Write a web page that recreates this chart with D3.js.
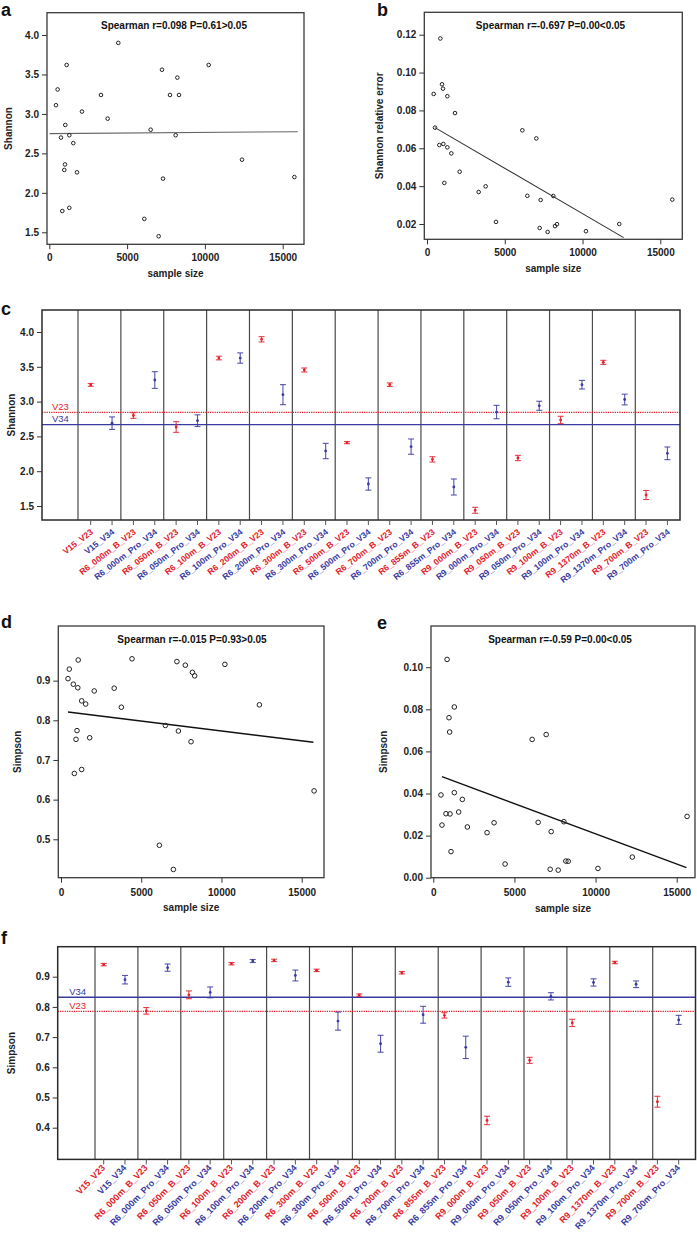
<!DOCTYPE html>
<html><head><meta charset="utf-8">
<script src="https://cdn.jsdelivr.net/npm/d3@7"></script>
<style>
body{margin:0;background:#fff}
text{font-family:"Liberation Sans",Arial,Helvetica,sans-serif}
</style>
</head><body>
<script>
// ---------------- DATA ----------------
const xTicks = [0, 5000, 10000, 15000];

// panel a : Shannon vs sample size
const aSize = [4435,1114,536,429,2100,3321,3750,1029,750,1286,1543,1007,964,1779,836,1286,6514,7243,8229,7757,8336,8121,10243,7307,6107,7028,12386,15750];
const aShannon = [3.90,3.62,3.31,3.11,3.03,3.24,2.94,2.86,2.70,2.73,2.63,2.36,2.29,2.26,1.77,1.81,2.80,3.56,3.46,3.24,3.24,2.73,3.62,2.18,1.67,1.45,2.42,2.20];
const aFitX = [21, 15964];
const aFitY = [2.750, 2.775];
const aYTicks = [1.5, 2.0, 2.5, 3.0, 3.5, 4.0];
const aTitle = "Spearman r=0.098 P=0.61>0.05";

// panel b : Shannon relative error vs sample size
const bSize = [857,429,964,1029,1307,1800,514,793,1050,1307,1564,2100,1114,3321,3771,4436,6129,7029,6450,7307,8121,7243,7757,8229,8357,10221,12364,15771];
const bErr = [0.118,0.0887,0.0938,0.0915,0.0875,0.0786,0.0709,0.0617,0.0623,0.0605,0.0573,0.0476,0.0417,0.0369,0.0399,0.0211,0.0695,0.0652,0.0349,0.0327,0.0348,0.0179,0.0158,0.0189,0.0199,0.0162,0.0200,0.0329];
const bFitX = [514, 12643];
const bFitY = [0.0709, 0.0128];
const bYTicks = [0.02, 0.04, 0.06, 0.08, 0.10, 0.12];
const bTitle = "Spearman r=-0.697 P=0.00<0.05";

// panel d : Simpson vs sample size
const dSize = [1072,517,436,767,1047,2069,3315,4425,7223,7747,8189,8332,10214,1288,1538,3761,12364,997,935,1787,6504,7315,8104,831,1288,15772,6130,7003];
const dSimpson = [0.952,0.929,0.905,0.891,0.882,0.874,0.881,0.955,0.948,0.939,0.921,0.912,0.941,0.849,0.841,0.833,0.839,0.774,0.752,0.756,0.787,0.773,0.746,0.666,0.676,0.622,0.485,0.424];
const dFitX = [436, 15730];
const dFitY = [0.821, 0.7445];
const dYTicks = [0.5, 0.6, 0.7, 0.8, 0.9];
const dTitle = "Spearman r=-0.015 P=0.93>0.05";

// panel e : Simpson (error) vs sample size
const eSize = [850,1296,967,1008,6091,6956,473,1296,1790,535,782,1029,1564,2099,3313,3745,1091,4424,6462,7265,8047,7203,7697,8170,8314,10146,12265,15640];
const eSimpson = [0.1037,0.0811,0.076,0.0692,0.0657,0.068,0.0393,0.0404,0.0372,0.025,0.0304,0.0303,0.0312,0.0241,0.0214,0.0261,0.0124,0.0065,0.0263,0.0219,0.0266,0.004,0.0036,0.0079,0.0078,0.0044,0.0098,0.0291];
const eFitX = [535, 15600];
const eFitY = [0.048, 0.00475];
const eYTicks = [0.00, 0.02, 0.04, 0.06, 0.08, 0.10];
const eTitle = "Spearman r=-0.59 P=0.00<0.05";

// panels c and f : per-sample estimates
const samples = ["V15_V23","V15_V34","R6_000m_B_V23","R6_000m_Pro_V34","R6_050m_B_V23","R6_050m_Pro_V34","R6_100m_B_V23","R6_100m_Pro_V34","R6_200m_B_V23","R6_200m_Pro_V34","R6_300m_B_V23","R6_300m_Pro_V34","R6_500m_B_V23","R6_500m_Pro_V34","R6_700m_B_V23","R6_700m_Pro_V34","R6_855m_B_V23","R6_855m_Pro_V34","R9_000m_B_V23","R9_000m_Pro_V34","R9_050m_B_V23","R9_050m_Pro_V34","R9_100m_B_V23","R9_100m_Pro_V34","R9_1370m_B_V23","R9_1370m_Pro_V34","R9_700m_B_V23","R9_700m_Pro_V34"];
const cShannon = [3.24,2.69,2.80,3.31,2.635,2.726,3.626,3.626,3.895,3.10,3.454,2.29,2.41,1.816,3.243,2.353,2.17,1.773,1.438,2.85,2.19,2.94,2.736,3.243,3.564,3.03,1.658,2.257];
const cShannonErr = [0.02,0.09,0.04,0.12,0.077,0.084,0.026,0.074,0.038,0.144,0.029,0.11,0.015,0.088,0.025,0.11,0.038,0.115,0.043,0.096,0.038,0.065,0.053,0.062,0.029,0.077,0.065,0.091];
const cRefNames = ["V23", "V34"];
const cRefValues = [2.846, 2.669];
const cYTicks = [1.5, 2.0, 2.5, 3.0, 3.5, 4.0];

const fSimpson = [0.940,0.890,0.787,0.930,0.840,0.848,0.943,0.952,0.954,0.904,0.921,0.753,0.839,0.678,0.913,0.774,0.772,0.666,0.424,0.882,0.623,0.835,0.747,0.881,0.947,0.875,0.486,0.757];
const fSimpsonErr = [0.004,0.014,0.011,0.012,0.013,0.018,0.004,0.005,0.004,0.018,0.004,0.03,0.004,0.028,0.004,0.028,0.009,0.037,0.014,0.014,0.01,0.012,0.012,0.012,0.004,0.011,0.018,0.015];
const fRefNames = ["V23", "V34"];
const fRefValues = [0.785, 0.832];
const fYTicks = [0.4, 0.5, 0.6, 0.7, 0.8, 0.9];

// ---------------- DRAWING ----------------
const RED = "#e3212b", BLUE = "#3a3aa2";
const colorOf = s => s.endsWith("V23") ? RED : BLUE;

const svg = d3.select("body").append("svg").attr("width", 697).attr("height", 1233);

function panelLetter(t, x, y) {
  svg.append("text").attr("x", x).attr("y", y).text(t)
    .attr("font-size", 18).attr("font-weight", "bold").attr("fill", "#111");
}

function styleAxis(g) {
  g.select(".domain").remove();
  g.selectAll(".tick line").attr("stroke", "#333").attr("stroke-width", 1);
  g.selectAll(".tick text").attr("font-size", 10).attr("font-weight", "bold")
    .attr("fill", "#222").style("font-family", '"Liberation Sans",Arial,sans-serif');
}

function scatter(c) {
  const g = svg.append("g");
  const x = d3.scaleLinear().domain([0, 15000]).range(c.xr);
  const y = d3.scaleLinear().domain(c.yd).range(c.yr);
  const [L, T, R, B] = c.box;
  g.append("rect").attr("x", L).attr("y", T).attr("width", R - L).attr("height", B - T)
    .attr("fill", "none").attr("stroke", "#3a3a3a").attr("stroke-width", 1.3);
  const xa = g.append("g").attr("transform", `translate(0,${B})`)
    .call(d3.axisBottom(x).tickValues(xTicks).tickFormat(d3.format("d")).tickSize(5).tickPadding(c.xpad));
  styleAxis(xa);
  const ya = g.append("g").attr("transform", `translate(${L},0)`)
    .call(d3.axisLeft(y).tickValues(c.yTicks).tickFormat(d3.format(c.fmt)).tickSize(5).tickPadding(3));
  styleAxis(ya);
  g.append("text").attr("x", (L + R) / 2).attr("y", c.xlabY).attr("text-anchor", "middle")
    .attr("font-size", 10).attr("font-weight", "bold").attr("fill", "#222").text("sample size");
  g.append("text").attr("transform", `translate(${c.ylabX},${(T + B) / 2}) rotate(-90)`)
    .attr("text-anchor", "middle").attr("font-size", 10).attr("font-weight", "bold").attr("fill", "#222").text(c.ylab);
  g.append("text").attr("x", c.titleX).attr("y", c.titleY).attr("text-anchor", "middle")
    .attr("font-size", 10).attr("font-weight", "bold").attr("fill", "#111").text(c.title);
  g.append("line").attr("x1", x(c.fitX[0])).attr("y1", y(c.fitY[0]))
    .attr("x2", x(c.fitX[1])).attr("y2", y(c.fitY[1]))
    .attr("stroke", c.fitColor).attr("stroke-width", c.fitW);
  g.selectAll("circle.pt").data(c.xs).join("circle").attr("class", "pt")
    .attr("cx", d => x(d)).attr("cy", (d, i) => y(c.ys[i])).attr("r", c.r)
    .attr("fill", "none").attr("stroke", "#222").attr("stroke-width", 1);
}

scatter({xs: aSize, ys: aShannon, fitX: aFitX, fitY: aFitY, yTicks: aYTicks, fmt: ".1f",
  xr: [49.3, 282.7], yd: [1.5, 4.0], yr: [232.3, 35], box: [47, 12.7, 304, 244.3],
  xlabY: 277, ylabX: 12, ylab: "Shannon", title: aTitle, titleX: 174, titleY: 29,
  fitColor: "#666", fitW: 1.1, r: 1.8, xpad: 5});
scatter({xs: bSize, ys: bErr, fitX: bFitX, fitY: bFitY, yTicks: bYTicks, fmt: ".2f",
  xr: [427, 660.3], yd: [0.02, 0.12], yr: [224, 34.7], box: [424.3, 12.3, 682.3, 239.3],
  xlabY: 272, ylabX: 383, ylab: "Shannon relative error", title: bTitle, titleX: 550.5, titleY: 28.5,
  fitColor: "#333", fitW: 1.1, r: 1.8, xpad: 5});
scatter({xs: dSize, ys: dSimpson, fitX: dFitX, fitY: dFitY, yTicks: dYTicks, fmt: ".1f",
  xr: [61, 301.7], yd: [0.5, 0.8], yr: [839.3, 720.3], box: [58.3, 626, 324, 877.7],
  xlabY: 911, ylabX: 21, ylab: "Simpson", title: dTitle, titleX: 192, titleY: 643,
  fitColor: "#111", fitW: 1.4, r: 2.3, xpad: 6});
scatter({xs: eSize, ys: eSimpson, fitX: eFitX, fitY: eFitY, yTicks: eYTicks, fmt: ".2f",
  xr: [433.3, 676.7], yd: [0, 0.08], yr: [877.7, 709.3], box: [431, 626, 695, 877.7],
  xlabY: 912, ylabX: 387, ylab: "Simpson", title: eTitle, titleX: 560, titleY: 643,
  fitColor: "#111", fitW: 1.4, r: 2.3, xpad: 6});

function catPanel(c) {
  const g = svg.append("g");
  const x = d3.scaleLinear().domain([0, samples.length - 1]).range(c.xr);
  const sep = d3.scaleLinear().domain([-0.5, 25.5]).range(c.sepR);
  const y = d3.scaleLinear().domain(c.yd).range(c.yr);
  const [L, T, R, B] = c.box;
  const seps = d3.range(0, samples.length, 2).map(i => i - 0.5);
  g.selectAll("line.sep").data(seps).join("line").attr("class", "sep")
    .attr("x1", d => sep(d)).attr("x2", d => sep(d)).attr("y1", T).attr("y2", B)
    .attr("stroke", "#4a4a4a").attr("stroke-width", 1.2);
  // reference lines
  c.refNames.forEach((n, k) => {
    const col = colorOf(n);
    g.append("line").attr("x1", L).attr("x2", R).attr("y1", y(c.refValues[k])).attr("y2", y(c.refValues[k]))
      .attr("stroke", col).attr("stroke-width", 1.3)
      .attr("stroke-dasharray", n === "V23" ? "1.3,1" : null);
    g.append("text").attr("x", L + c.refLabDx).attr("y", y(c.refValues[k]) - 2.5)
      .attr("font-size", 9.5).attr("fill", col).text(n);
  });
  g.append("rect").attr("x", L).attr("y", T).attr("width", R - L).attr("height", B - T)
    .attr("fill", "none").attr("stroke", "#2a2a2a").attr("stroke-width", 1.5);
  // error bars
  const eb = g.selectAll("g.eb").data(samples).join("g").attr("class", "eb")
    .attr("transform", (d, i) => `translate(${x(i)},0)`);
  eb.append("line").attr("y1", (d, i) => y(c.vals[i] - c.errs[i])).attr("y2", (d, i) => y(c.vals[i] + c.errs[i]))
    .attr("stroke", d => colorOf(d)).attr("stroke-width", 1.1).attr("opacity", 0.85);
  eb.append("line").attr("x1", -3).attr("x2", 3).attr("y1", (d, i) => y(c.vals[i] + c.errs[i])).attr("y2", (d, i) => y(c.vals[i] + c.errs[i]))
    .attr("stroke", d => colorOf(d)).attr("stroke-width", 1.1).attr("opacity", 0.85);
  eb.append("line").attr("x1", -3).attr("x2", 3).attr("y1", (d, i) => y(c.vals[i] - c.errs[i])).attr("y2", (d, i) => y(c.vals[i] - c.errs[i]))
    .attr("stroke", d => colorOf(d)).attr("stroke-width", 1.1).attr("opacity", 0.85);
  eb.append("circle").attr("cy", (d, i) => y(c.vals[i])).attr("r", 1.4).attr("fill", d => colorOf(d));
  // y axis
  const ya = g.append("g").attr("transform", `translate(${L},0)`)
    .call(d3.axisLeft(y).tickValues(c.yTicks).tickFormat(d3.format(".1f")).tickSize(5).tickPadding(3));
  styleAxis(ya);
  g.append("text").attr("transform", `translate(${c.ylabX},${(T + B) / 2}) rotate(-90)`)
    .attr("text-anchor", "middle").attr("font-size", 10).attr("font-weight", "bold").attr("fill", "#222").text(c.ylab);
  // x ticks + rotated labels
  const xt = g.selectAll("g.xt").data(samples).join("g").attr("class", "xt")
    .attr("transform", (d, i) => `translate(${x(i)},${B})`);
  xt.append("line").attr("y1", 0).attr("y2", 5).attr("stroke", "#555").attr("stroke-width", 1);
  xt.append("text").attr("transform", `translate(${c.labDx},${c.labDy}) rotate(${c.angle})`)
    .attr("text-anchor", "end").attr("font-size", c.labFs).attr("font-weight", "bold")
    .attr("fill", d => colorOf(d)).text(d => d);
}

catPanel({vals: cShannon, errs: cShannonErr, refNames: cRefNames, refValues: cRefValues, yTicks: cYTicks,
  xr: [90.7, 667.4], sepR: [78, 635.3], yd: [1.5, 4.0], yr: [506, 332], box: [42, 310, 680, 520],
  ylabX: 15, ylab: "Shannon", refLabDx: 10, labDx: 3, labDy: 13, angle: -38, labFs: 8.6});
catPanel({vals: fSimpson, errs: fSimpsonErr, refNames: fRefNames, refValues: fRefValues, yTicks: fYTicks,
  xr: [103.7, 678.7], sepR: [95, 652.7], yd: [0.4, 0.9], yr: [1127.7, 976.7], box: [57.7, 946.7, 695.5, 1159.4],
  ylabX: 15, ylab: "Simpson", refLabDx: 11.5, labDx: 2, labDy: 9, angle: -46, labFs: 9});

panelLetter("a", 1, 16);
panelLetter("b", 377, 16);
panelLetter("c", 1, 315);
panelLetter("d", 1, 628);
panelLetter("e", 377, 629);
panelLetter("f", 1, 944);
</script>
</body></html>
